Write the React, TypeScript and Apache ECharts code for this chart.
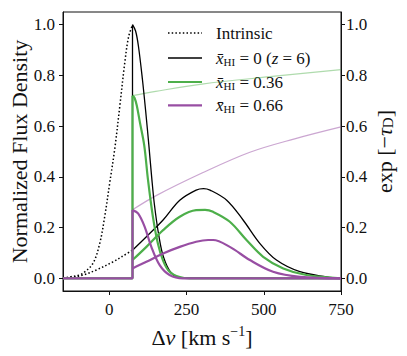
import React, { useEffect, useRef } from "react";
import * as echarts from "echarts";

// ---- data (velocity offset in km/s, normalized flux) ----
const xTicks = [0, 250, 500, 750];
const yTicks = [0, 0.2, 0.4, 0.6, 0.8, 1.0];
const V0 = 75; // velocity where the transmitted profile starts

const intrinsicNarrow = [
  [-150, 0], [-128, 0.006], [-100, 0.012], [-85, 0.02], [-53, 0.059], [-31, 0.138], [-15, 0.243],
  [1, 0.374], [17.5, 0.51], [34, 0.68], [50, 0.85], [62, 0.95], [75, 1.0],
];
const intrinsicBroad = [
  [-150, 0], [-120, 0.004], [-85, 0.013], [-42, 0.033], [12, 0.065], [40, 0.085], [75, 0.111],
];
const blackNarrow = [
  [75, 1.0], [85, 0.975], [94, 0.917], [107, 0.786], [118, 0.655], [128, 0.524], [137, 0.4],
  [146, 0.29], [160, 0.17], [175, 0.085], [200, 0.022], [235, 0.002], [750, 0],
];
const blackBroad = [
  [75, 0.111], [120, 0.164], [174, 0.23], [228, 0.308], [281, 0.348], [305, 0.354], [326, 0.348],
  [380, 0.308], [433, 0.23], [487, 0.138], [541, 0.072], [617, 0.026], [703, 0.006], [750, 0],
];
const greenNarrow = [
  [75, 0.72], [82, 0.71], [89, 0.68], [99, 0.615], [113, 0.524], [125, 0.39], [141, 0.243],
  [157, 0.138], [174, 0.07], [195, 0.026], [228, 0.005], [260, 0], [750, 0],
];
const greenBroad = [
  [75, 0.072], [120, 0.124], [174, 0.19], [228, 0.243], [281, 0.269], [310, 0.27], [336, 0.262],
  [390, 0.223], [444, 0.151], [498, 0.085], [563, 0.039], [638, 0.013], [750, 0],
];
const purpleNarrow = [
  [75, 0.269], [93, 0.256], [114.5, 0.203], [136, 0.124], [163, 0.052], [195, 0.013], [238, 0], [750, 0],
];
const purpleBroad = [
  [75, 0.039], [120, 0.065], [174, 0.098], [228, 0.124], [281, 0.144], [320, 0.151], [336, 0.151],
  [390, 0.124], [455, 0.072], [530, 0.026], [617, 0.006], [750, 0],
];
const transGreen = [[75, 0.72], [150, 0.737], [300, 0.766], [520, 0.795], [750, 0.823]];
const transPurple = [[75, 0.27], [150, 0.325], [300, 0.415], [455, 0.497], [600, 0.55], [750, 0.597]];

const stepBlack = [[-150, 0], [V0, 0], [V0, 1.0]];
const stepGreen = [[-150, 0], [V0, 0], [V0, 0.72]];
const stepPurple = [[-150, 0], [V0, 0], [V0, 0.269]];

const legendNames = ["Intrinsic", "x0", "x36", "x66"];
const legendLabels: Record<string, string> = {
  Intrinsic: "{t|Intrinsic}",
  x0: "{x|x\u0304}{sub|HI}{t| = 0 (}{x|z}{t| = 6)}",
  x36: "{x|x\u0304}{sub|HI}{t| = 0.36}",
  x66: "{x|x\u0304}{sub|HI}{t| = 0.66}",
};

const GREEN = "#4daf4a";
const PURPLE = "#984ea3";
const BLACK = "#000000";
const FONT = "Liberation Serif";

function line(name: string, data: number[][], color: string, width: number, extra: any = {}) {
  return {
    type: "line",
    name,
    data,
    symbol: "none",
    showSymbol: false,
    smooth: 0.35,
    lineStyle: { color, width },
    itemStyle: { color },
    ...extra,
  };
}

export default function App() {
  const ref = useRef<HTMLDivElement>(null);
  useEffect(() => {
    if (!ref.current) return;
    const chart = echarts.init(ref.current, undefined, { renderer: "svg" });
    const axisColor = "#111";
    const yAxisBase = {
      type: "value",
      min: -0.05,
      max: 1.05,
      axisLine: { show: true, onZero: false, lineStyle: { color: axisColor, width: 1 } },
      axisTick: { show: true, length: 4, customValues: yTicks, lineStyle: { color: axisColor, width: 1 } },
      axisLabel: { show: false },
      splitLine: { show: false },
    };
    const option: any = {
      animation: false,
      grid: {
        left: 63, right: 66, top: 12, bottom: 65,
        show: true, borderColor: axisColor, borderWidth: 1, backgroundColor: "transparent",
      },
      xAxis: {
        type: "value",
        min: -150,
        max: 750,
        axisLine: { show: true, onZero: false, lineStyle: { color: axisColor, width: 1 } },
        axisTick: { show: true, length: 4, customValues: xTicks, lineStyle: { color: axisColor, width: 1 } },
        axisLabel: { show: false },
        splitLine: { show: false },
      },
      yAxis: [
        { ...yAxisBase, position: "left" },
        { ...yAxisBase, position: "right" },
      ],
      series: [
        line("tg", transGreen, GREEN, 1.2, { yAxisIndex: 1, lineStyle: { color: GREEN, width: 1.2, opacity: 0.45 } }),
        line("tp", transPurple, PURPLE, 1.2, { yAxisIndex: 1, lineStyle: { color: PURPLE, width: 1.2, opacity: 0.5 } }),
        line("Intrinsic", intrinsicNarrow, BLACK, 1.5, { lineStyle: { color: BLACK, width: 1.5, type: [1.5, 2.2] } }),
        line("Intrinsic", intrinsicBroad, BLACK, 1.5, { lineStyle: { color: BLACK, width: 1.5, type: [1.5, 2.2] } }),
        line("x0", stepBlack, BLACK, 1.3, { smooth: false }),
        line("x0", blackNarrow, BLACK, 1.3),
        line("x0", blackBroad, BLACK, 1.3),
        line("x36", stepGreen, GREEN, 2.2, { smooth: false }),
        line("x36", greenNarrow, GREEN, 2.2),
        line("x36", greenBroad, GREEN, 2.2),
        line("x66", stepPurple, PURPLE, 2.2, { smooth: false }),
        line("x66", purpleNarrow, PURPLE, 2.2),
        line("x66", purpleBroad, PURPLE, 2.2),
      ],
    };
    chart.setOption(option);

    // ---- texts placed through the chart's own scales ----
    const px = (v: number, y: number, yi = 0) =>
      chart.convertToPixel({ xAxisIndex: 0, yAxisIndex: yi }, [v, y]) as number[];
    const base = { fontFamily: FONT, fill: axisColor };
    const rich = (size: number) => ({
      t: { fontFamily: FONT, fontSize: size, fill: axisColor },
      x: { fontFamily: FONT, fontSize: size, fontStyle: "italic", fill: axisColor },
      sub: { fontFamily: FONT, fontSize: Math.round(size * 0.66), fill: axisColor, padding: [8, 0, 0, 0] },
      sup: { fontFamily: FONT, fontSize: Math.round(size * 0.62), fill: axisColor, padding: [0, 0, 11, 0] },
    });
    const g: any[] = [];
    const bottom = px(-150, -0.05)[1];
    const leftX = px(-150, 0)[0];
    const rightX = px(750, 0)[0];
    xTicks.forEach((v) => {
      g.push({
        type: "text", silent: true, x: px(v, -0.05)[0], y: bottom + 18.5,
        style: { ...base, text: String(v), fontSize: 17, align: "center", verticalAlign: "middle" },
      });
    });
    yTicks.forEach((t) => {
      const yL = px(-150, t, 0)[1];
      const yR = px(750, t, 1)[1];
      g.push({
        type: "text", silent: true, x: leftX - 8, y: yL,
        style: { ...base, text: t.toFixed(1), fontSize: 17, align: "right", verticalAlign: "middle" },
      });
      g.push({
        type: "text", silent: true, x: rightX + 5, y: yR,
        style: { ...base, text: t.toFixed(1), fontSize: 17, align: "left", verticalAlign: "middle" },
      });
    });
    const midY = px(-150, 0.5)[1];
    const midX = px(300, 0)[0];
    g.push({
      type: "text", silent: true, x: leftX - 44, y: midY, rotation: Math.PI / 2,
      style: { ...base, text: "Normalized Flux Density", fontSize: 22, align: "center", verticalAlign: "middle" },
    });
    g.push({
      type: "text", silent: true, x: rightX + 43, y: midY, rotation: Math.PI / 2,
      style: { ...base, text: "{t|exp [−}{x|τ}{sub|D}{t|]}", fontSize: 22, align: "center", verticalAlign: "middle", rich: rich(22) },
    });
    g.push({
      type: "text", silent: true, x: midX, y: bottom + 46,
      style: { ...base, text: "{t|Δ}{x|v}{t| [km s}{sup|−1}{t|]}", fontSize: 22, align: "center", verticalAlign: "middle", rich: rich(22) },
    });

    // legend (no frame), top right inside the axes
    const rows = [33, 58, 82, 105.3];
    const legendStyles = [
      { stroke: BLACK, lineWidth: 1.5, lineDash: [1.5, 2.2] },
      { stroke: BLACK, lineWidth: 1.3 },
      { stroke: GREEN, lineWidth: 2.2 },
      { stroke: PURPLE, lineWidth: 2.2 },
    ];
    legendNames.forEach((n, i) => {
      g.push({
        type: "line", silent: true,
        shape: { x1: 168, y1: rows[i], x2: 202, y2: rows[i] },
        style: legendStyles[i],
      });
      g.push({
        type: "text", silent: true, x: 216, y: rows[i],
        style: { ...base, text: legendLabels[n], fontSize: 17, align: "left", verticalAlign: "middle", rich: rich(17) },
      });
    });
    chart.setOption({ graphic: g });
    return () => chart.dispose();
  }, []);
  return <div ref={ref} style={{ width: 407, height: 356, position: "absolute", left: 0, top: 0 }} />;
}
